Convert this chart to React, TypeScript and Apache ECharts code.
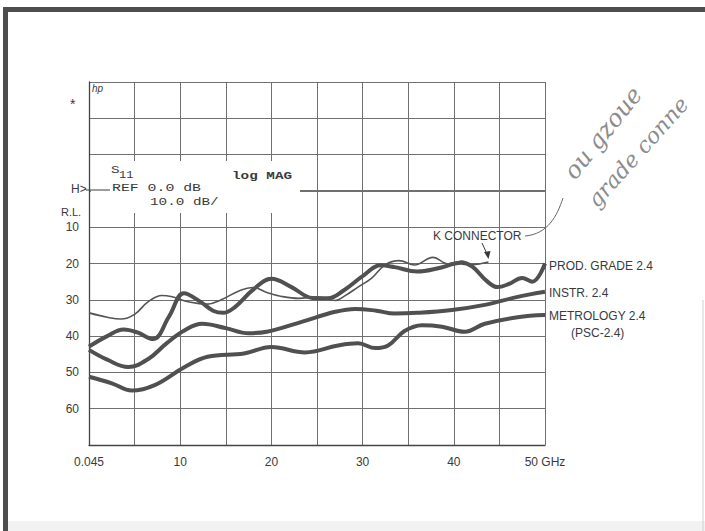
import React, { useEffect, useRef } from "react";
import * as echarts from "echarts";

// Frequency (GHz) vs return loss (dB)
const kConnector: number[][] = [
  [0, 33.6], [2, 34.8], [3.5, 35.3], [5, 34], [6.5, 30.5], [8, 28.8], [9, 29.1], [11, 30.6],
  [13, 31.2], [14.5, 30], [16.5, 27.5], [18, 26.6], [19.5, 28], [21, 29], [23, 29.6], [25, 29.2],
  [27, 30.2], [28, 29], [29.5, 26.5], [31, 24], [32.5, 20.3], [34, 19.2], [35.7, 20.4], [37.7, 18.3],
  [39.4, 20.1], [40.9, 19.3], [42, 20.3], [43.8, 19.6],
];
const prodGrade: number[][] = [
  [0, 42.9], [2, 40], [3.8, 38.2], [5.3, 39], [7, 40.8], [8.8, 34.5], [10.4, 28.2],
  [12.2, 30.5], [13.6, 33], [14.7, 33.6], [16, 32], [18, 27.2], [20, 24.2], [22.2, 26.5], [24.5, 29.5],
  [26.2, 29.6], [28, 27.3], [30, 23.5], [32, 20.5], [33.5, 21], [36, 22.2], [38.3, 21.3], [40.8, 19.8],
  [42, 20.8], [43.6, 24.8], [44.8, 26.5], [46, 25.7], [47.5, 24], [48.6, 25], [50, 20],
];
const instr: number[][] = [
  [0, 43.8], [2, 46.5], [4.3, 48.5], [6.5, 46.3], [8.5, 42], [10.5, 38.4], [12.4, 36.6], [15, 37.8],
  [17.5, 39.2], [19.5, 38.8], [23.4, 36], [27, 33.3], [29.2, 32.5], [31.5, 33], [33.5, 33.8], [36, 33.6],
  [39.8, 32.8], [43.4, 31.4], [47, 29.2], [50, 27.8],
];
const metrology: number[][] = [
  [0, 51.2], [2.5, 53], [4.7, 55], [7.2, 53.5], [10.5, 48.5], [13, 45.7], [17, 44.8], [20, 43],
  [23.7, 44.5], [27.3, 42.6], [29.5, 42], [31.4, 43.3], [32.8, 42.6], [34.6, 38.6], [36.5, 37],
  [38.7, 37.4], [41.2, 38.8], [43.4, 36.6], [47, 34.8], [50, 34.2],
];

const xTickLabels: Record<number, string> = { 0: "0.045", 10: "10", 20: "20", 30: "30", 40: "40", 50: "50 GHz" };
const yTickLabels: Record<number, string> = { 10: "10", 20: "20", 30: "30", 40: "40", 50: "50", 60: "60" };

const seriesNames = ["PROD. GRADE 2.4", "INSTR. 2.4", "METROLOGY 2.4", "K CONNECTOR"];

export default function App() {
  const ref = useRef<HTMLDivElement>(null);
  useEffect(() => {
    if (!ref.current) return;
    const chart = echarts.init(ref.current, null, { renderer: "svg" });
    const sans = "Liberation Sans, Arial, sans-serif";
    const mono = "Liberation Mono, DejaVu Sans Mono, monospace";
    const ink = "#3a3a3a";
    const curve = "#505050";
    const txt = (x: number, y: number, text: string, font: string, extra: any = {}) => ({
      type: "text",
      x,
      y,
      z: 60,
      ...extra,
      style: { text, font, fill: ink, ...(extra.style || {}) },
    });
    chart.setOption({
      animation: false,
      backgroundColor: "#ffffff",
      grid: { left: 89, top: 82, right: 160, bottom: 86, containLabel: false },
      xAxis: {
        type: "value",
        min: 0,
        max: 50,
        interval: 5,
        axisLine: { show: true, onZero: false, lineStyle: { color: "#444", width: 1.3 } },
        axisTick: { show: false },
        axisLabel: {
          margin: 11,
          color: ink,
          fontFamily: sans,
          fontSize: 12,
          formatter: (v: number) => xTickLabels[v] ?? "",
        },
        splitLine: { show: true, lineStyle: { color: "#707070", width: 1 } },
      },
      yAxis: {
        type: "value",
        inverse: true,
        min: -30,
        max: 70,
        interval: 10,
        axisLine: { show: true, onZero: false, lineStyle: { color: "#444", width: 1.3 } },
        axisTick: { show: false },
        axisLabel: {
          margin: 10,
          color: ink,
          fontFamily: sans,
          fontSize: 12,
          formatter: (v: number) => yTickLabels[v] ?? "",
        },
        splitLine: { show: true, lineStyle: { color: "#707070", width: 1 } },
      },
      series: [
        { name: seriesNames[0], type: "line", data: prodGrade, smooth: 0.4, symbol: "none", lineStyle: { color: curve, width: 4 } },
        { name: seriesNames[1], type: "line", data: instr, smooth: 0.4, symbol: "none", lineStyle: { color: curve, width: 4 } },
        { name: seriesNames[2], type: "line", data: metrology, smooth: 0.4, symbol: "none", lineStyle: { color: curve, width: 4 } },
        { name: seriesNames[3], type: "line", data: kConnector, smooth: 0.4, symbol: "none", lineStyle: { color: "#555", width: 1.6 } },
      ],
      graphic: [
        // frame
        { type: "rect", z: 70, shape: { x: 3, y: 7, width: 5, height: 524 }, style: { fill: "#4d4d4d" } },
        { type: "rect", z: 70, shape: { x: 3, y: 7, width: 702, height: 5 }, style: { fill: "#4d4d4d" } },
        { type: "line", z: 70, shape: { x1: 703, y1: 300, x2: 703, y2: 531 }, style: { stroke: "#cfcfcf", lineWidth: 1 } },
        { type: "rect", z: 5, shape: { x: 8, y: 521, width: 697, height: 10 }, style: { fill: "#f2f2f2" } },
        // reference (0 dB) grid line right of the annotation block
        { type: "line", z: 1, shape: { x1: 300, y1: 190.5, x2: 545, y2: 190.5 }, style: { stroke: "#707070", lineWidth: 1 } },
        // annotation box blanking the grid
        { type: "rect", z: 50, shape: { x: 91, y: 161, width: 209, height: 52 }, style: { fill: "#ffffff" } },
        txt(92, 83, "hp", "italic 10px " + sans),
        txt(70, 97, "*", "14px " + sans),
        txt(71, 183, "H>", "12px " + sans),
        { type: "line", z: 60, shape: { x1: 86, y1: 190, x2: 110, y2: 190 }, style: { stroke: ink, lineWidth: 1 } },
        txt(61, 206, "R.L.", "11px " + sans),
        txt(111, 164, "S", "11px " + mono, { scaleX: 1.3 }),
        txt(119, 170, "11", "10px " + mono, { scaleX: 1.2 }),
        txt(232, 170, "log MAG", "bold 11px " + mono, { scaleX: 1.3 }),
        txt(112, 183, "REF 0.0 dB", "11px " + mono, { scaleX: 1.35 }),
        txt(150, 196, "10.0 dB/", "11px " + mono, { scaleX: 1.3 }),
        // right-hand labels
        txt(549, 260, "PROD. GRADE 2.4", "12px " + sans),
        txt(549, 287, "INSTR. 2.4", "12px " + sans),
        txt(549, 310, "METROLOGY 2.4", "12px " + sans),
        txt(571, 327, "(PSC-2.4)", "12px " + sans),
        txt(433, 230, "K CONNECTOR", "12px " + sans),
        { type: "line", z: 60, shape: { x1: 482, y1: 243, x2: 487.5, y2: 255 }, style: { stroke: ink, lineWidth: 1 } },
        { type: "polygon", z: 60, shape: { points: [[488.5, 259], [484, 252], [490.5, 251]] }, style: { fill: ink } },
        {
          type: "bezierCurve",
          z: 60,
          shape: { x1: 525, y1: 236, x2: 563, y2: 198, cpx1: 548, cpy1: 234, cpx2: 557, cpy2: 216 },
          style: { stroke: "#666", lineWidth: 1, fill: "none" },
        },
        // handwriting
        txt(603, 133, "ou gzoue", "italic 24px DejaVu Serif, serif", {
          rotation: 0.9,
          style: { fill: "#8c8c8c", textAlign: "center", textVerticalAlign: "middle", verticalAlign: "middle" },
        }),
        txt(638, 152, "grade conne", "italic 22px DejaVu Serif, serif", {
          rotation: 0.84,
          style: { fill: "#8c8c8c", textAlign: "center", textVerticalAlign: "middle", verticalAlign: "middle" },
        }),
      ],
    });
    return () => chart.dispose();
  }, []);
  return <div ref={ref} style={{ position: "fixed", left: 0, top: 0, width: 705, height: 531 }} />;
}
